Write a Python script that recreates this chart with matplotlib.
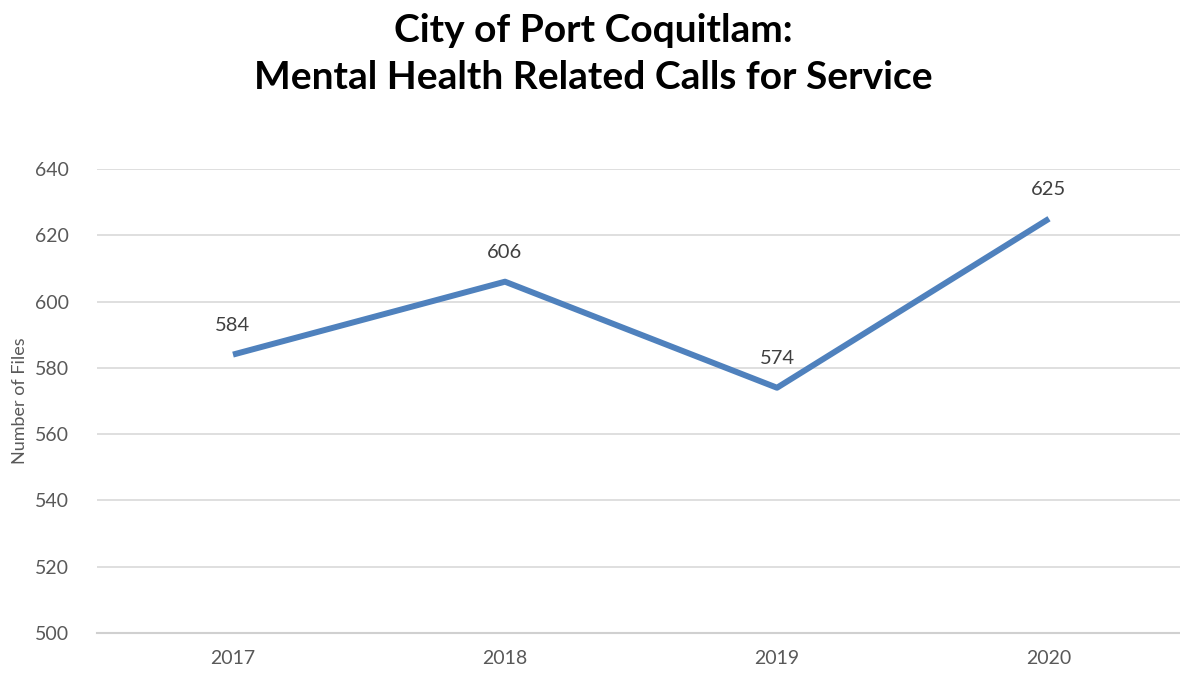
import matplotlib
matplotlib.use("Agg")
import matplotlib.pyplot as plt

years = ["2017", "2018", "2019", "2020"]
calls = [584, 606, 574, 625]
y_ticks = [500, 520, 540, 560, 580, 600, 620, 640]

plt.rcParams['font.family'] = ['Lato', 'DejaVu Sans']

fig = plt.figure(figsize=(11.8, 6.75), dpi=100)
ax = fig.add_axes([97 / 1180, 1 - 633 / 675, 1088 / 1180, (633 - 169) / 675])

x = list(range(len(years)))
ax.plot(x, calls, color="#4F81BD", linewidth=4.3, solid_capstyle="butt", zorder=3)
for xi, v in zip(x, calls):
    ax.annotate(str(v), (xi, v), xytext=(0, 15), textcoords="offset points",
                ha="center", va="bottom", fontsize=14.5, color="#404040")

ax.set_xlim(-0.5, len(years) - 0.5)
ax.set_ylim(500, 640)
ax.set_yticks(y_ticks)
ax.set_xticks(x)
ax.set_xticklabels(years)
ax.grid(axis="y", color="#D9D9D9", linewidth=1.2)
ax.axhline(500, color="#D0D0D0", linewidth=1.5, clip_on=False, zorder=1)
ax.set_axisbelow(True)
for s in ax.spines.values():
    s.set_visible(False)
ax.tick_params(length=0, labelsize=14, labelcolor="#595959")
ax.tick_params(axis="y", pad=20)
ax.tick_params(axis="x", pad=12)
ax.set_ylabel("Number of Files", fontsize=13, color="#595959", labelpad=5)

fig.text(0.503, 0.955, "City of Port Coquitlam:", ha="center", va="center",
         fontsize=28, fontweight="bold", color="black")
fig.text(0.503, 0.885, "Mental Health Related Calls for Service", ha="center", va="center",
         fontsize=28, fontweight="bold", color="black")

fig.savefig("out.png", dpi=100)
